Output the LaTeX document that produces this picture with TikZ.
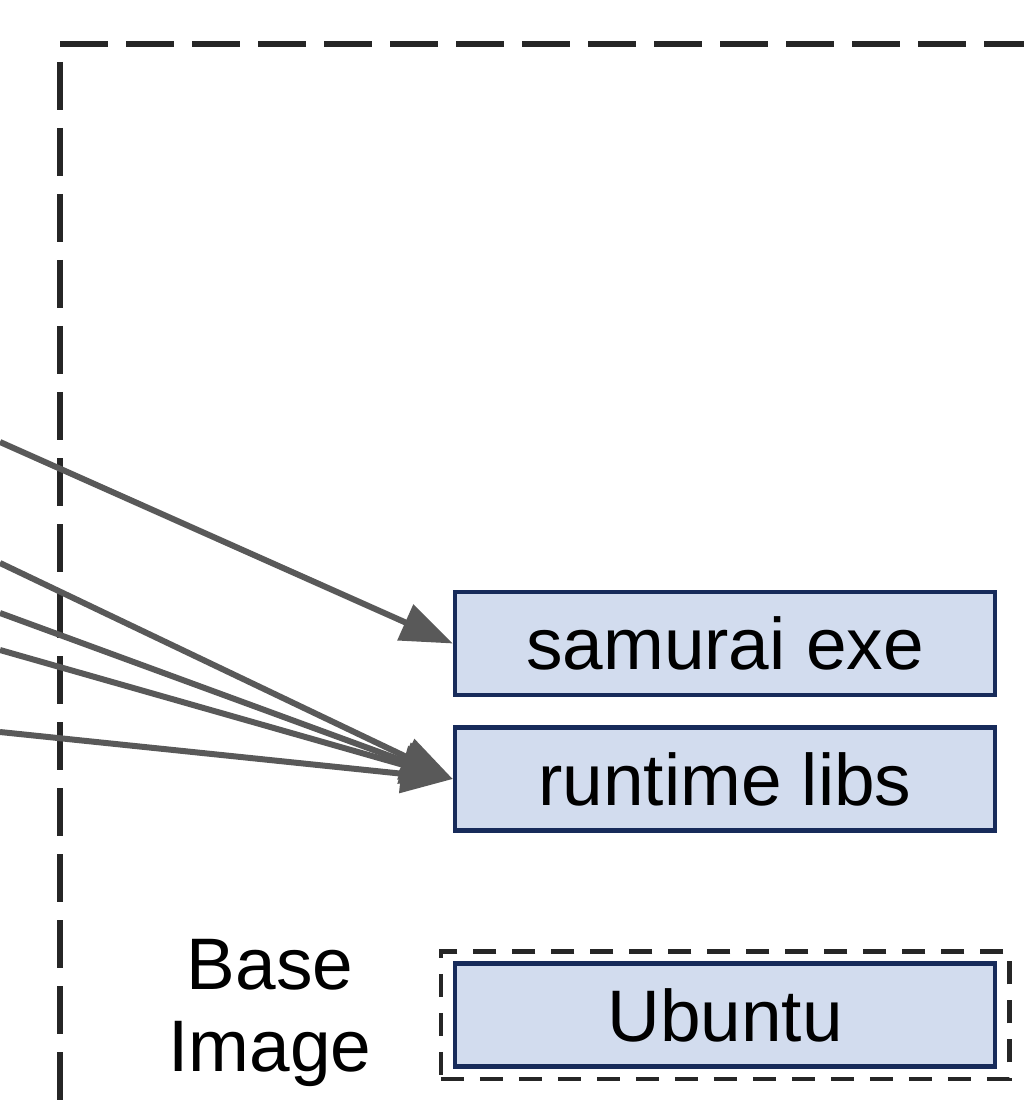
\documentclass[tikz,border=0pt]{standalone}
\usepackage{fontspec}
\setmainfont{Liberation Sans}
\usetikzlibrary{arrows.meta,positioning,fit}
\definecolor{layerblue}{HTML}{D2DCEE}
\definecolor{layeredge}{HTML}{172B5A}
\definecolor{arrowgray}{HTML}{595959}
\definecolor{framegray}{HTML}{262626}

\begin{document}
\begin{tikzpicture}[
  x=0.5pt, y=-0.5pt,
  node distance=14pt,
  layer/.style={draw=layeredge, line width=2.25pt, fill=layerblue, minimum width=270pt, minimum height=51.5pt, inner sep=0pt, font=\fontsize{36.5}{41}\selectfont},
  arr/.style={-{Triangle[length=26pt, width=19pt]}, line width=3pt, draw=arrowgray, fill=arrowgray},
  groupframe/.style={draw=framegray, line width=2.75pt, dash pattern=on 24pt off 9pt},
  basebox/.style={draw=framegray, line width=2.25pt, dash pattern=on 11.5pt off 8pt, inner xsep=6pt, inner ysep=5pt},
]
  \useasboundingbox (0,0) rectangle (1023,1106);

  \draw[groupframe] (60,44) -- (1060,44);
  \draw[groupframe, dash phase=24pt] (60,44) -- (60,1140);

  \node[layer] (exe) at (725,643.5) {samurai exe};
  \node[layer, below=of exe] (libs) {runtime libs};
  \node[layer] (ubuntu) at (725,1015) {Ubuntu};
  \node[basebox, fit=(ubuntu)] (base) {};
  \node[align=center, font=\fontsize{36.5}{41}\selectfont] (baselbl) at (270,1013) {Base\\Image};

  \coordinate (src1) at (0,442);
  \coordinate (src2) at (0,563);
  \coordinate (src3) at (0,613);
  \coordinate (src4) at (0,650);
  \coordinate (src5) at (0,732);

  \draw[arr] (src1) -- (exe.west);
  \foreach \s in {2,...,5}
    \draw[arr] (src\s) -- (libs.west);
\end{tikzpicture}
\end{document}
